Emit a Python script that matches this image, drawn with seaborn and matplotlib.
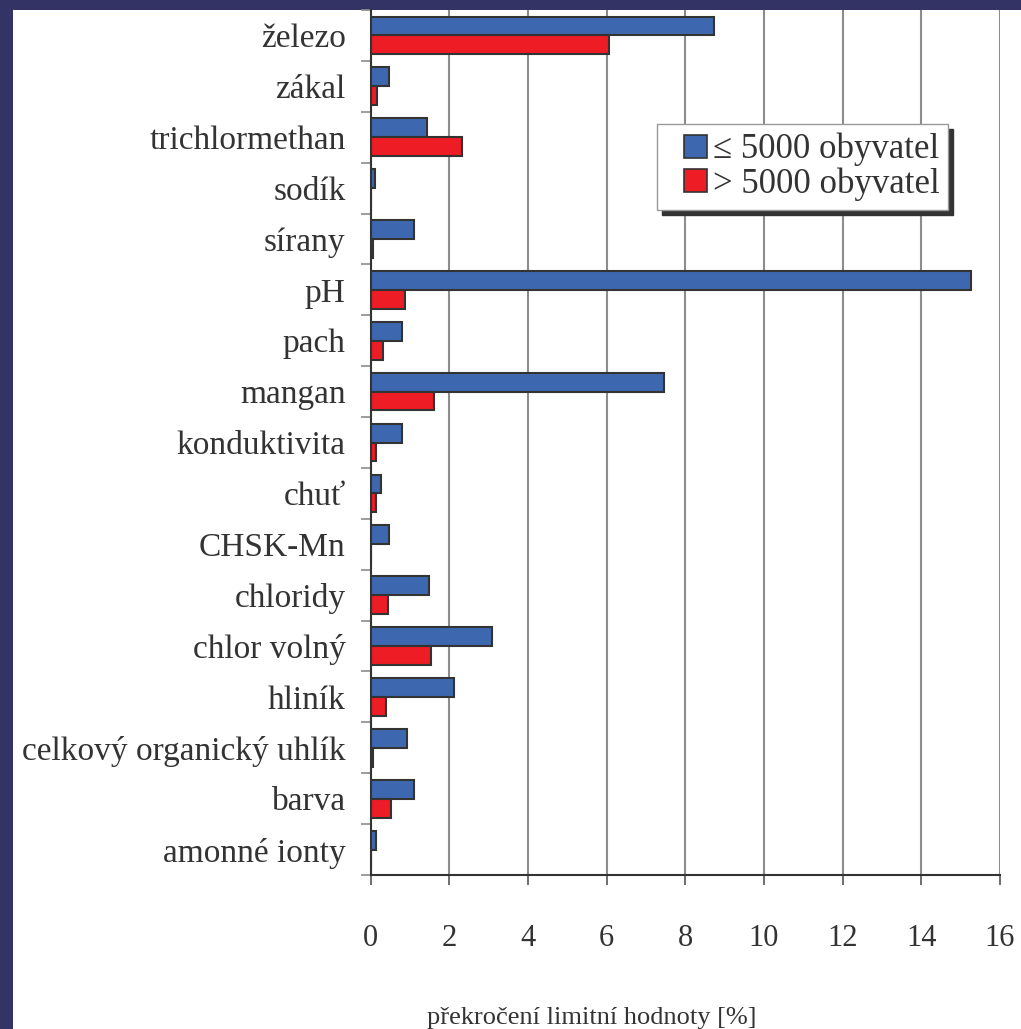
import pandas as pd
import matplotlib
matplotlib.use('Agg')
import matplotlib.pyplot as plt
import seaborn as sns
from matplotlib.patches import Rectangle, Patch
from matplotlib.ticker import FixedLocator
from matplotlib.legend_handler import HandlerPatch

categories = ['železo', 'zákal', 'trichlormethan', 'sodík', 'sírany', 'pH', 'pach',
              'mangan', 'konduktivita', 'chuť', 'CHSK-Mn', 'chloridy', 'chlor volný',
              'hliník', 'celkový organický uhlík', 'barva', 'amonné ionty']
small_towns = [8.74, 0.47, 1.42, 0.10, 1.10, 15.26, 0.80, 7.46, 0.80, 0.25, 0.47,
               1.49, 3.08, 2.13, 0.92, 1.09, 0.14]
big_towns = [6.06, 0.17, 2.32, 0.0, 0.06, 0.87, 0.32, 1.60, 0.14, 0.14, 0.0,
             0.43, 1.53, 0.40, 0.06, 0.51, 0.0]
groups = ['≤ 5000 obyvatel', '> 5000 obyvatel']
colors = ['#3D68B0', '#EE1C25']
x_ticks = [0, 2, 4, 6, 8, 10, 12, 14, 16]

df = pd.DataFrame({
    'kategorie': categories * 2,
    'hodnota': small_towns + big_towns,
    'skupina': [groups[0]] * len(categories) + [groups[1]] * len(categories),
})

sns.set_style('white')
plt.rcParams['font.family'] = ['Liberation Serif', 'DejaVu Serif']
text_color = '#333333'

fig = plt.figure(figsize=(10.21, 10.29), dpi=100, facecolor='#333366')
fig.patches.append(Rectangle((13 / 1021, 0), 1, (1029 - 10) / 1029, transform=fig.transFigure,
                             facecolor='white', edgecolor='none', zorder=-10))
ax = fig.add_axes([370.7 / 1021, 154 / 1029, 629.3 / 1021, 865 / 1029])
ax.set_zorder(1)
ax.set_facecolor('white')

sns.barplot(data=df, y='kategorie', x='hodnota', hue='skupina', orient='h',
            order=categories, hue_order=groups, palette=colors,
            saturation=1, width=0.74, edgecolor='#333333', linewidth=1.5, ax=ax, zorder=3,
            legend=False)

ax.set_xlim(0, 16)
ax.set_xticks(x_ticks)
ax.set_xticklabels([str(t) for t in x_ticks], fontsize=22, color=text_color)
ax.grid(axis='x', color='#8c8c8c', linewidth=1.5, zorder=0)
ax.set_axisbelow(True)

for side in ['top', 'right']:
    ax.spines[side].set_visible(False)
ax.spines['left'].set_color('#333333')
ax.spines['bottom'].set_color('#333333')
ax.spines['left'].set_linewidth(1.5)
ax.spines['bottom'].set_linewidth(1.5)

ax.tick_params(axis='x', direction='out', length=7.2, width=1.2, color='#555555', pad=28,
               bottom=True)
ax.tick_params(axis='y', which='major', length=0, pad=18, labelsize=24, labelcolor=text_color)
ax.yaxis.set_minor_locator(FixedLocator([i + 0.5 for i in range(-1, len(categories))]))
ax.tick_params(axis='y', which='minor', direction='out', length=7.2, width=1.2, color='#8c8c8c',
               left=True)

ax.set_ylabel('')
ax.set_xlabel('překročení limitní hodnoty [%]', fontsize=19, color=text_color)
ax.xaxis.set_label_coords(0.352, -0.153)


# square legend keys pushed to the right side of their handle box
def square_key(legend, orig_handle, xdescent, ydescent, width, height, fontsize):
    side = height
    return Rectangle((width - side - xdescent, -ydescent), side, side)


handles = [Patch(facecolor=c, edgecolor='#333333', linewidth=1.2) for c in colors]
leg = ax.legend(handles, groups, loc='upper left', bbox_to_anchor=(0.455, 0.868), fontsize=25,
                frameon=True, fancybox=False, framealpha=1, edgecolor='#999999',
                borderpad=0.25, handlelength=1.18, handleheight=0.63, handletextpad=0.17,
                labelspacing=0.03, borderaxespad=0,
                handler_map={Patch: HandlerPatch(patch_func=square_key)},
                shadow={'ox': 3.6, 'oy': -3.6, 'facecolor': '#333333',
                        'edgecolor': '#333333', 'alpha': 1})
for t in leg.get_texts():
    t.set_color(text_color)
leg.get_frame().set_linewidth(1)

fig.savefig('out.png', dpi=100, facecolor=fig.get_facecolor())
